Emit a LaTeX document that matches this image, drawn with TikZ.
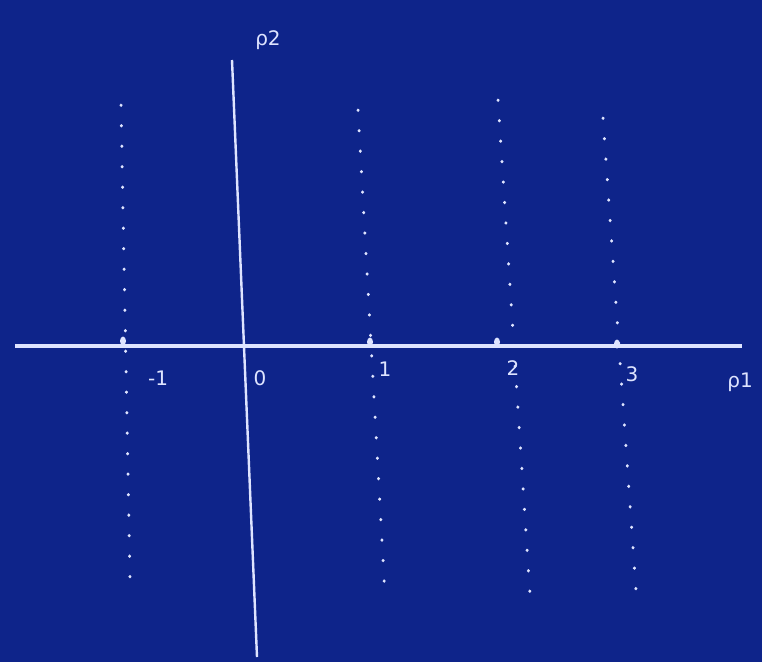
\documentclass[tikz,border=0pt]{standalone}
\usepackage{fontspec}
\usetikzlibrary{shapes.geometric}
\setmainfont{DejaVu Sans}
\definecolor{bg}{RGB}{14,36,138}
\definecolor{chalk}{RGB}{222,228,255}
\begin{document}
\begin{tikzpicture}[x=1pt,y=-1pt,
  axisline/.style={draw=chalk,line width=3.2pt},
  dotline/.style={draw=chalk,line width=3pt,line cap=round,dash pattern=on 0.5pt off 20pt},
  lab/.style={text=chalk,font=\fontsize{20}{20}\selectfont,inner sep=0pt},
  tickdot/.style={fill=chalk,ellipse,inner sep=0pt,minimum width=6pt,minimum height=9pt}]
\fill[bg] (0,0) rectangle (762,662);
\useasboundingbox (0,0) rectangle (762,662);
% axes
\coordinate (xl) at (15,346);
\coordinate (xr) at (742,346);
\coordinate (yt) at (232,60);
\coordinate (yb) at (257,657);
\draw[axisline] (xl) -- (xr);
\draw[draw=chalk,line width=2.4pt] (yt) -- (yb);
% dotted lines
\coordinate (a1) at (121,105); \coordinate (a2) at (130,578);
\coordinate (b1) at (358,110); \coordinate (b2) at (385,595);
\coordinate (c1) at (498,100); \coordinate (c2) at (530,595);
\coordinate (d1) at (603,118); \coordinate (d2) at (637,605);
\draw[dotline] (a1) -- (a2);
\draw[dotline] (b1) -- (b2);
\draw[dotline] (c1) -- (c2);
\draw[dotline] (d1) -- (d2);
% tick marks
\node[tickdot] (t1) at (123,341) {};
\node[tickdot] (t2) at (370,342) {};
\node[tickdot] (t3) at (497,342) {};
\node[tickdot] (t4) at (617,344) {};
% labels
\node[lab] (lm1) at (158,378) {-1};
\node[lab] (l0) at (260,378) {0};
\node[lab] (l1) at (385,369) {1};
\node[lab] (l2) at (513,368) {2};
\node[lab] (l3) at (632,374) {3};
\node[lab] (rho1) at (740,382) {ρ1};
\node[lab] (rho2) at (268,40) {ρ2};
\end{tikzpicture}
\end{document}
